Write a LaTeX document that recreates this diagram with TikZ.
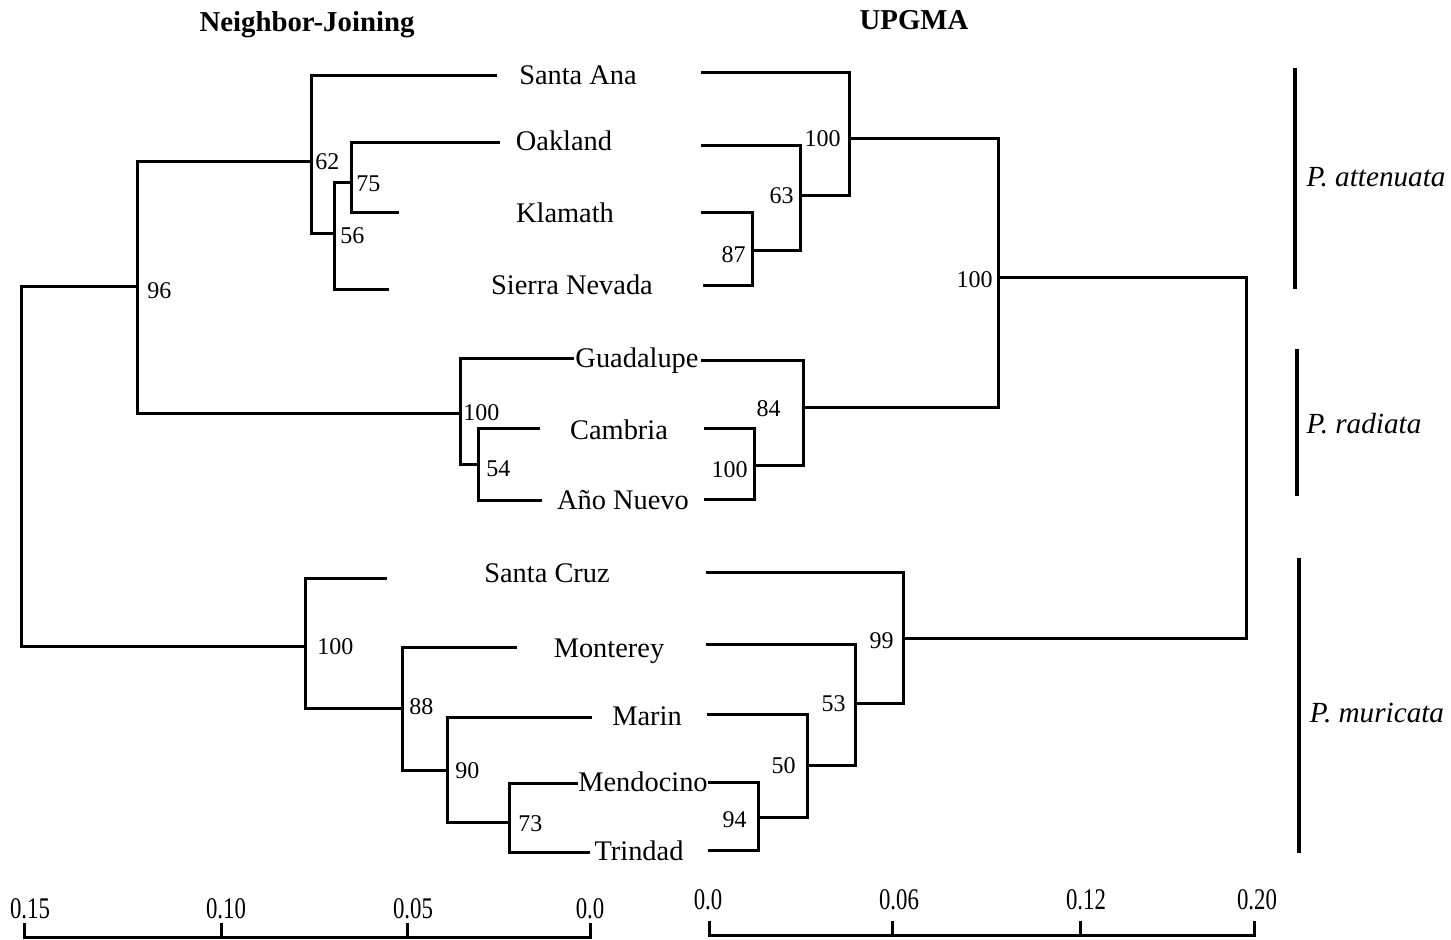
\documentclass[tikz,border=0pt]{standalone}
\usepackage{graphicx}
\usepackage{fontspec}
\setmainfont{Liberation Serif}
\begin{document}
\begin{tikzpicture}[x=0.5pt,y=-0.5pt,
  br/.style={line width=1.5pt},
  bar/.style={line width=2pt},
  leaf/.style={anchor=base,font=\fontsize{14.2}{16}\selectfont,inner sep=0pt},
  bsl/.style={anchor=west,font=\fontsize{12}{14}\selectfont,inner sep=0pt},
  bsr/.style={anchor=east,font=\fontsize{12}{14}\selectfont,inner sep=0pt},
  ttl/.style={anchor=base,font=\fontsize{14.4}{16}\selectfont\bfseries,inner sep=0pt},
  spec/.style={anchor=base,font=\fontsize{14.6}{16}\selectfont\itshape,inner sep=0pt},
  sclab/.style={font=\fontsize{15}{17}\selectfont,inner sep=0pt}]
\useasboundingbox (0,0) rectangle (1451,940);

% titles
\node[ttl] (ttlNJ) at (307,32) {Neighbor-Joining};
\node[ttl] (ttlUP) at (914,30) {UPGMA};

% leaf labels
\node[leaf] (tA) at (578,85) {Santa Ana};
\node[leaf] (tO) at (564,151) {Oakland};
\node[leaf] (tK) at (565,223) {Klamath};
\node[leaf] (tS) at (572,295) {Sierra Nevada};
\node[leaf] (tG) at (637,368) {Guadalupe};
\node[leaf] (tC) at (619,440) {Cambria};
\node[leaf] (tN) at (623,510) {Año Nuevo};
\node[leaf] (tSC) at (547,583) {Santa Cruz};
\node[leaf] (tMo) at (609,657) {Monterey};
\node[leaf] (tMa) at (647,725) {Marin};
\node[leaf] (tMe) at (643,791) {Mendocino};
\node[leaf] (tT) at (639,860) {Trindad};

% ---------- Neighbor-Joining tree ----------
\coordinate (jA) at (497,76);
\coordinate (jO) at (500,143);
\coordinate (jK) at (399,213);
\coordinate (jS) at (389,290);
\coordinate (jG) at (574,359);
\coordinate (jC) at (540,429);
\coordinate (jN) at (542,501);
\coordinate (jSC) at (387,579);
\coordinate (jMo) at (517,648);
\coordinate (jMa) at (592,717);
\coordinate (jMe) at (578,783);
\coordinate (jT) at (590,852);
\coordinate (j75) at (351,183);
\coordinate (j56) at (334,234);
\coordinate (j62) at (311,162);
\coordinate (j54) at (478,465);
\coordinate (j100a) at (460,414);
\coordinate (j96) at (137,287);
\coordinate (j73) at (509,822);
\coordinate (j90) at (447,770);
\coordinate (j88) at (402,708);
\coordinate (j100b) at (305,647);
\coordinate (jR) at (21,460);

\draw[br] (jO) -| (j75) |- (jK);
\draw[br] (j75) -| (j56) |- (jS);
\draw[br] (jA) -| (j62) |- (j56);
\draw[br] (jC) -| (j54) |- (jN);
\draw[br] (jG) -| (j100a) |- (j54);
\draw[br] (j62) -| (j96) |- (j100a);
\draw[br] (jMe) -| (j73) |- (jT);
\draw[br] (jMa) -| (j90) |- (j73);
\draw[br] (jMo) -| (j88) |- (j90);
\draw[br] (jSC) -| (j100b) |- (j88);
\draw[br] (j96) -| (jR) |- (j100b);

\node[bsl] (b96) at (147,291) {96};
\node[bsl] (b62) at (315,162) {62};
\node[bsl] (b75) at (356,184) {75};
\node[bsl] (b56) at (340,236) {56};
\node[bsl] (b100a) at (463,413) {100};
\node[bsl] (b54) at (486,469) {54};
\node[bsl] (b100b) at (317,647) {100};
\node[bsl] (b88) at (409,707) {88};
\node[bsl] (b90) at (455,771) {90};
\node[bsl] (b73) at (518,824) {73};

% ---------- UPGMA tree ----------
\coordinate (uA) at (701,73);
\coordinate (uO) at (701,146);
\coordinate (uK) at (701,213);
\coordinate (uS) at (703,286);
\coordinate (uG) at (701,361);
\coordinate (uC) at (704,429);
\coordinate (uN) at (704,500);
\coordinate (uSC) at (706,573);
\coordinate (uMo) at (706,645);
\coordinate (uMa) at (707,714);
\coordinate (uMe) at (708,782);
\coordinate (uT) at (708,850);
\coordinate (u87) at (752,251);
\coordinate (u63) at (800,196);
\coordinate (u100a) at (849,139);
\coordinate (u100b) at (754,466);
\coordinate (u84) at (803,408);
\coordinate (u100c) at (998,278);
\coordinate (u94) at (758,817);
\coordinate (u50) at (807,765);
\coordinate (u53) at (855,703);
\coordinate (u99) at (903,639);
\coordinate (uR) at (1246,460);

\draw[br] (uK) -| (u87) |- (uS);
\draw[br] (uO) -| (u63) |- (u87);
\draw[br] (uA) -| (u100a) |- (u63);
\draw[br] (uC) -| (u100b) |- (uN);
\draw[br] (uG) -| (u84) |- (u100b);
\draw[br] (u100a) -| (u100c) |- (u84);
\draw[br] (uMe) -| (u94) |- (uT);
\draw[br] (uMa) -| (u50) |- (u94);
\draw[br] (uMo) -| (u53) |- (u50);
\draw[br] (uSC) -| (u99) |- (u53);
\draw[br] (u100c) -| (uR) |- (u99);

\node[bsr] (c100a) at (841,139) {100};
\node[bsr] (c63) at (794,196) {63};
\node[bsr] (c87) at (746,255) {87};
\node[bsr] (c100c) at (993,280) {100};
\node[bsr] (c84) at (781,409) {84};
\node[bsr] (c100b) at (748,470) {100};
\node[bsr] (c99) at (894,641) {99};
\node[bsr] (c53) at (846,704) {53};
\node[bsr] (c50) at (796,766) {50};
\node[bsr] (c94) at (747,820) {94};

% ---------- species ----------
\draw[bar] (1295,68) -- (1295,289);
\draw[bar] (1297,349) -- (1297,496);
\draw[bar] (1299,558) -- (1299,853);
\node[spec] (sA) at (1376,187) {P. attenuata};
\node[spec] (sR) at (1364,434) {P. radiata};
\node[spec] (sM) at (1377,722) {P. muricata};

% ---------- scale bars ----------
\draw[br] (24,923) -- (24,937) -- (590,937) -- (590,923);
\draw[br] (221,937) -- (221,923);
\draw[br] (407,937) -- (407,923);
\draw[br] (709,921) -- (709,935) -- (1254,935) -- (1254,921);
\draw[br] (892,935) -- (892,921);
\draw[br] (1080,935) -- (1080,921);
\node[sclab] (l1) at (30,909) {\scalebox{0.76}[1]{0.15}};
\node[sclab] (l2) at (226,909) {\scalebox{0.76}[1]{0.10}};
\node[sclab] (l3) at (413,909) {\scalebox{0.76}[1]{0.05}};
\node[sclab] (l4) at (590,909) {\scalebox{0.76}[1]{0.0}};
\node[sclab] (r1) at (708,900) {\scalebox{0.76}[1]{0.0}};
\node[sclab] (r2) at (899,900) {\scalebox{0.76}[1]{0.06}};
\node[sclab] (r3) at (1086,900) {\scalebox{0.76}[1]{0.12}};
\node[sclab] (r4) at (1257,900) {\scalebox{0.76}[1]{0.20}};
\end{tikzpicture}
\end{document}
